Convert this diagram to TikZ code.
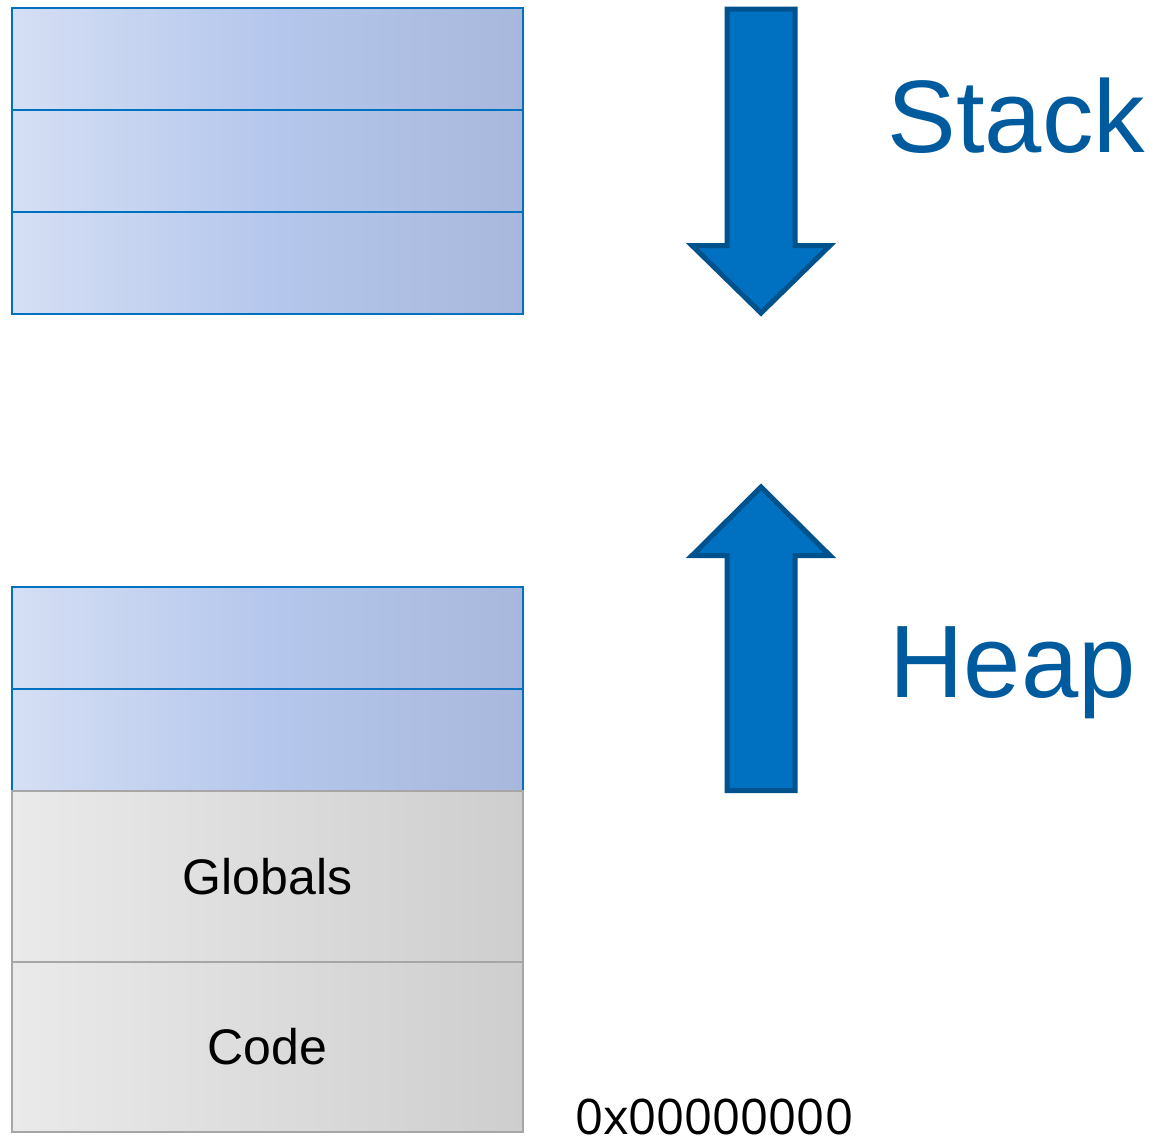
\documentclass[tikz,border=0pt]{standalone}
\usepackage{fontspec}
\setmainfont{Liberation Sans}
\newfontfamily\hexfont{Open Sans}
\usetikzlibrary{positioning}
\definecolor{cellEdge}{RGB}{0,112,192}
\definecolor{cellLeft}{RGB}{213,223,244}
\definecolor{cellMid}{RGB}{181,199,236}
\definecolor{cellRight}{RGB}{168,184,220}
\definecolor{greyLeft}{RGB}{234,234,234}
\definecolor{greyRight}{RGB}{206,206,206}
\definecolor{greyEdge}{RGB}{166,166,166}
\definecolor{arrowFill}{RGB}{0,112,192}
\definecolor{arrowEdge}{RGB}{0,82,140}
\definecolor{regionText}{RGB}{0,90,158}
\tikzset{
  cell/.style={rectangle, inner sep=0pt, outer sep=0pt, line width=1pt,
    minimum width=255.5pt, minimum height=51pt},
  frame/.style={cell, draw=cellEdge, left color=cellLeft, right color=cellRight, middle color=cellMid},
  fixed/.style={cell, draw=greyEdge, left color=greyLeft, right color=greyRight,
    font=\fontsize{25}{29}\selectfont},
  growth/.style={fill=arrowFill, draw=arrowEdge, line width=2.5pt},
  region/.style={text=regionText, inner sep=0pt, anchor=base west, font=\fontsize{51.5}{60}\selectfont}
}

\begin{document}
\begin{tikzpicture}[x=0.5pt, y=-0.5pt]
\useasboundingbox (0,0) rectangle (1154,1142);

\node[frame] (s1) at (267.5,59) {};
\node[frame] (s2) [below=0pt of s1] {};
\node[frame] (s3) [below=0pt of s2] {};

\node[frame] (h1) at (267.5,638) {};
\node[frame] (h2) [below=0pt of h1] {};
\node[fixed, minimum height=85.5pt] (globals) [below=0pt of h2] {Globals};
\node[fixed, minimum height=85pt] (code) [below=0pt of globals] {Code};

\node[font=\hexfont\fontsize{24.5}{29}\selectfont, inner sep=0pt] (addr) at (714,1117) {0x00000000};

\draw[growth] (727,9) -- (795,9) -- (795,245.5) -- (830,245.5) -- (761,313)
  -- (692,245.5) -- (727,245.5) -- cycle;
\draw[growth] (727,790.5) -- (795,790.5) -- (795,555.5) -- (830,555.5) -- (761,487)
  -- (692,555.5) -- (727,555.5) -- cycle;

\node[region] (stack) at (887,152) {Stack};
\node[region] (heap) at (889,697) {Heap};

\end{tikzpicture}
\end{document}
